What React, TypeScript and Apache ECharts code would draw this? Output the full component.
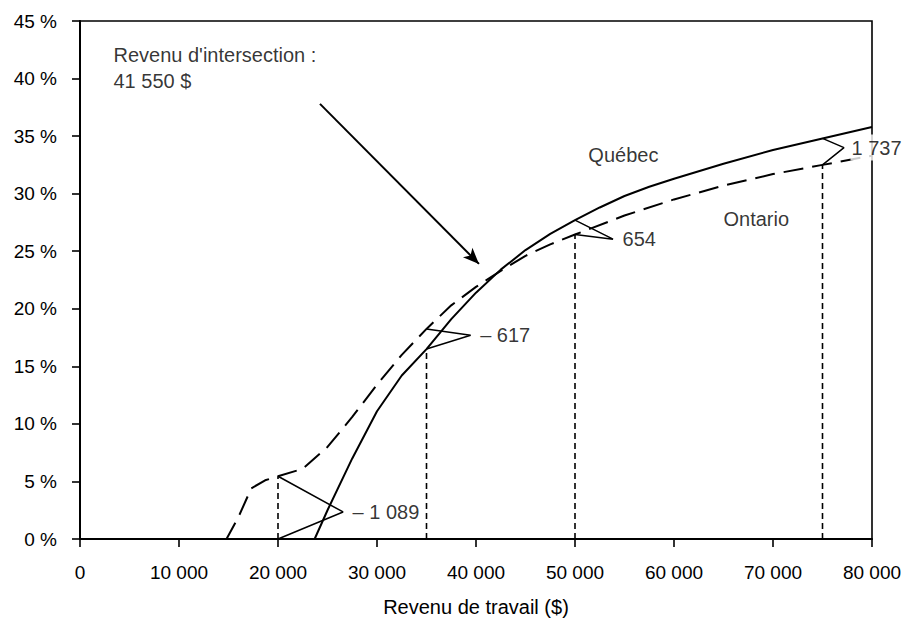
import React, { useEffect, useRef } from "react";
import * as echarts from "echarts";

// ---- data ----
const xTickLabels = ["0", "10 000", "20 000", "30 000", "40 000", "50 000", "60 000", "70 000", "80 000"];
const yTickLabels = ["0 %", "5 %", "10 %", "15 %", "20 %", "25 %", "30 %", "35 %", "40 %", "45 %"];

const seriesNames = ["Québec", "Ontario"];

// average rate (%) by labour income ($)
const quebec: [number, number][] = [
  [0, 0], [20000, 0], [23700, 0], [25000, 2.5], [27500, 7.0], [30000, 11.1], [32500, 14.2],
  [35000, 16.5], [37500, 19.1], [40000, 21.4], [42500, 23.4], [45000, 25.1], [47500, 26.5],
  [50000, 27.7], [52500, 28.8], [55000, 29.8], [57500, 30.6], [60000, 31.3], [65000, 32.6],
  [70000, 33.8], [75000, 34.8], [80000, 35.8],
];
const ontario: [number, number][] = [
  [0, 0], [14800, 0], [16000, 1.9], [17300, 4.4], [18700, 5.1], [20000, 5.45], [22500, 6.1],
  [25000, 8.0], [27500, 10.6], [30000, 13.4], [32500, 16.0], [35000, 18.25], [37500, 20.3],
  [40000, 21.9], [42500, 23.3], [45000, 24.6], [47500, 25.6], [50000, 26.45], [55000, 28.1],
  [60000, 29.5], [65000, 30.7], [70000, 31.7], [75000, 32.5], [80000, 33.3],
];

const compareIncomes = [20000, 35000, 50000, 75000];
const gapLabels = ["– 1 089", "– 617", "654", "1 737"];
const calloutTips: [number, number][] = [[26570, 2.35], [39460, 17.7], [53840, 26.05], [77170, 34.0]];

const noteLines = ["Revenu d'intersection :", "41 550 $"];
const axisTitle = "Revenu de travail ($)";

// annotation anchors (data units)
const noteAnchor: [number, number] = [3330, 40.9];
const quebecAnchor: [number, number] = [51300, 33.4];
const ontarioAnchor: [number, number] = [64950, 27.8];
const arrowFrom: [number, number] = [24240, 37.8];
const arrowTo: [number, number] = [40300, 23.9];

const FONT = "'Liberation Sans', Arial, Helvetica, sans-serif";
const INK = "#000";

function valueAt(s: [number, number][], x: number): number {
  const p = s.find((d) => d[0] === x);
  return p ? p[1] : 0;
}

export default function App() {
  const ref = useRef<HTMLDivElement>(null);

  useEffect(() => {
    document.body.style.margin = "0";
    if (!ref.current) return;
    const chart = echarts.init(ref.current, undefined, { renderer: "svg" });

    const dropSeries = compareIncomes.map((x) => {
      const q = valueAt(quebec, x);
      const o = valueAt(ontario, x);
      const lo = Math.min(q, o);
      const top = lo > 0 ? lo : Math.max(q, o);
      return {
        type: "line",
        data: [[x, 0], [x, top]],
        symbol: "none",
        lineStyle: { color: INK, width: 1.6, type: [6, 4] },
        z: 3,
        silent: true,
      };
    });

    const calloutSeries = compareIncomes.map((x, i) => ({
      type: "line",
      data: [[x, valueAt(ontario, x)], calloutTips[i], [x, valueAt(quebec, x)]],
      symbol: "none",
      lineStyle: { color: INK, width: 1.5 },
      z: 4,
      silent: true,
    }));

    const option: any = {
      animation: false,
      backgroundColor: "#fff",
      textStyle: { fontFamily: FONT, color: INK },
      grid: {
        left: 80,
        right: 33,
        top: 21,
        bottom: 85,
        show: true,
        borderColor: INK,
        borderWidth: 1.6,
        outerBoundsMode: "none",
      },
      xAxis: {
        type: "value",
        min: 0,
        max: 80000,
        interval: 10000,
        name: axisTitle,
        nameLocation: "middle",
        nameGap: 58,
        nameTextStyle: { fontFamily: FONT, fontSize: 20, color: INK },
        axisLine: { show: true, onZero: false, lineStyle: { color: INK, width: 2 } },
        axisTick: { show: true, length: 8, lineStyle: { color: INK, width: 1.6 } },
        axisLabel: {
          margin: 24,
          fontFamily: FONT,
          fontSize: 19,
          color: INK,
          formatter: (v: number) => xTickLabels[Math.round(v / 10000)],
        },
        splitLine: { show: false },
      },
      yAxis: {
        type: "value",
        min: 0,
        max: 45,
        interval: 5,
        axisLine: { show: true, onZero: false, lineStyle: { color: INK, width: 2 } },
        axisTick: { show: true, length: 8, lineStyle: { color: INK, width: 1.6 } },
        axisLabel: {
          margin: 23,
          fontFamily: FONT,
          fontSize: 19,
          color: INK,
          formatter: (v: number) => yTickLabels[Math.round(v / 5)],
        },
        splitLine: { show: false },
      },
      series: [
        ...dropSeries,
        ...calloutSeries,
        {
          name: seriesNames[1],
          type: "line",
          data: ontario,
          symbol: "none",
          lineStyle: { color: INK, width: 2, type: [20, 9] },
          z: 5,
        },
        {
          name: seriesNames[0],
          type: "line",
          data: quebec,
          symbol: "none",
          lineStyle: { color: INK, width: 2 },
          z: 6,
        },
        {
          type: "scatter",
          symbolSize: 1,
          itemStyle: { color: "rgba(0,0,0,0)" },
          z: 10,
          silent: true,
          data: calloutTips.map((t, i) => ({
            value: t,
            label: {
              show: true,
              position: "right",
              distance: i === 3 ? 6 : 9,
              formatter: gapLabels[i],
              fontFamily: FONT,
              fontSize: 20,
              color: INK,
              backgroundColor: i === 3 ? "#fff" : "transparent",
              padding: i === 3 ? [3, 1] : 0,
            },
          })),
        },
        {
          type: "scatter",
          symbolSize: 1,
          itemStyle: { color: "rgba(0,0,0,0)" },
          z: 10,
          silent: true,
          label: {
            show: true,
            position: "right",
            distance: 0,
            fontFamily: FONT,
            fontSize: 20,
            color: INK,
            lineHeight: 26,
          },
          data: [
            { value: quebecAnchor, label: { formatter: seriesNames[0] } },
            { value: ontarioAnchor, label: { formatter: seriesNames[1] } },
            { value: noteAnchor, label: { formatter: noteLines.join("\n") } },
          ],
          markLine: {
            silent: true,
            symbol: ["none", "arrow"],
            symbolSize: [10, 16],
            label: { show: false },
            lineStyle: { color: INK, width: 2, type: "solid" },
            data: [[{ coord: arrowFrom }, { coord: arrowTo }]],
          },
        },
      ],
    };

    chart.setOption(option);
    return () => chart.dispose();
  }, []);

  return <div ref={ref} style={{ width: 905, height: 624 }} />;
}
